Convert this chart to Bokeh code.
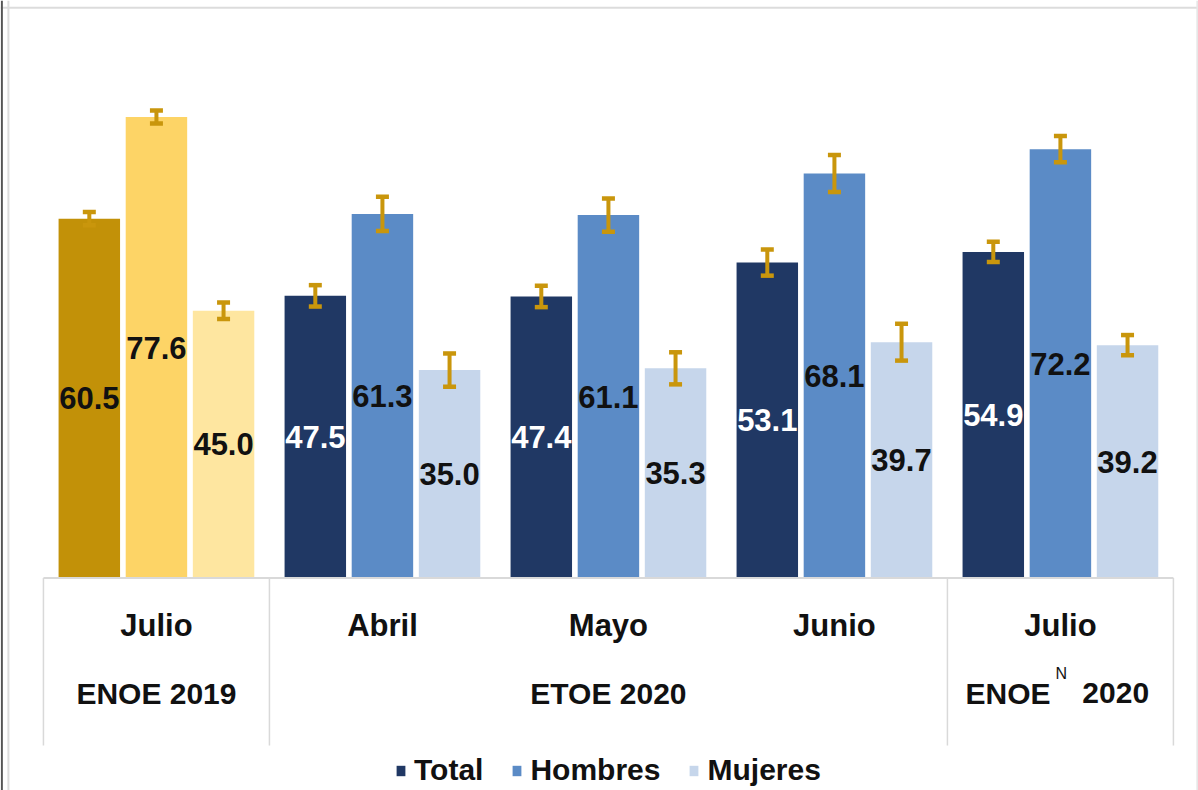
from bokeh.plotting import figure
from bokeh.models import ColumnDataSource, Range1d, Whisker, TeeHead, Legend, LegendItem, Span
from bokeh.core.properties import value
from bokeh.embed import file_html
from bokeh.resources import INLINE

# ---------------- data ----------------
months = ["Julio", "Abril", "Mayo", "Junio", "Julio"]
surveys = ["ENOE 2019", "ETOE 2020", "ETOE 2020", "ETOE 2020", "ENOE 2020"]
series = ["Total", "Hombres", "Mujeres"]
total = [60.5, 47.5, 47.4, 53.1, 54.9]
hombres = [77.6, 61.3, 61.1, 68.1, 72.2]
mujeres = [45.0, 35.0, 35.3, 39.7, 39.2]
err_total = [1.1, 1.8, 1.8, 2.2, 1.7]
err_hombres = [1.1, 2.9, 2.8, 3.1, 2.2]
err_mujeres = [1.4, 2.8, 2.7, 3.1, 1.7]

# ---------------- style ----------------
FONT = "Liberation Sans, Arial, sans-serif"
colors_2019 = ["#c29108", "#fdd466", "#fee6a0"]
colors_2020 = ["#203864", "#5b8bc6", "#c6d6eb"]
ERR_COLOR = "#c9960c"
offsets = [-0.297, 0.0, 0.297]
BAR_W = 0.272
GRID = "#d9d9d9"
TXT = "#111111"

W, H = 1198, 790
p = figure(width=W, height=H, output_backend="svg", toolbar_location=None,
           x_range=Range1d(-0.690, 4.611), y_range=Range1d(-35.77, 97.22),
           x_axis_location=None, y_axis_location=None,
           min_border=0, outline_line_color=None,
           background_fill_color="white", border_fill_color="white")
p.grid.visible = False

values_by_series = [total, hombres, mujeres]
errs_by_series = [err_total, err_hombres, err_mujeres]
renderers = []
for s, (name, vals, errs) in enumerate(zip(series, values_by_series, errs_by_series)):
    xs = [i + offsets[s] for i in range(len(months))]
    cols = [(colors_2019 if sv.endswith("2019") else colors_2020)[s] for sv in surveys]
    lcol = ["white" if c == colors_2020[0] else TXT for c in cols]
    src = ColumnDataSource(dict(
        x=xs, top=vals, color=cols, lcolor=lcol,
        ymid=[v / 2 for v in vals], label=[f"{v:.1f}" for v in vals],
        upper=[v + e for v, e in zip(vals, errs)],
        lower=[v - e for v, e in zip(vals, errs)],
    ))
    r = p.vbar(x="x", top="top", bottom=0, width=BAR_W, source=src,
               fill_color="color", line_color=None)
    renderers.append(r)
    wh = Whisker(base="x", upper="upper", lower="lower", source=src,
                 line_color=ERR_COLOR, line_width=4, level="overlay",
                 upper_head=TeeHead(size=13, line_width=4.5, line_color=ERR_COLOR),
                 lower_head=TeeHead(size=13, line_width=4.5, line_color=ERR_COLOR))
    p.add_layout(wh)
    p.text(x="x", y="ymid", text="label", source=src, text_align="center",
           text_baseline="middle", text_font=value(FONT), text_font_size="31px",
           text_font_style="bold", text_color="lcolor")

# ---------------- category table ----------------
n = len(months)
ROW1, ROW2, DEPTH = -8.0, -19.4, -28.2
bounds = [-0.5] + [i + 0.5 for i in range(n - 1) if surveys[i] != surveys[i + 1]] + [n - 0.5]
p.segment(x0=[-0.5], y0=[0], x1=[n - 0.5], y1=[0], line_color=GRID, line_width=2)
p.segment(x0=bounds, y0=[0] * len(bounds), x1=bounds, y1=[DEPTH] * len(bounds),
          line_color=GRID, line_width=1.5)

p.text(x=list(range(n)), y=[ROW1] * n, text=months, text_align="center",
       text_baseline="middle", text_font=value(FONT), text_font_size="31px",
       text_font_style="bold", text_color=TXT)

groups = []
for i, sv in enumerate(surveys):
    if groups and groups[-1][0] == sv:
        groups[-1][1].append(i)
    else:
        groups.append((sv, [i]))
for sv, idx in groups:
    cx = sum(idx) / len(idx)
    name, year = sv.split(" ")
    if sv == "ENOE 2020":
        p.text(x=[cx - 0.044], y=[ROW2], text=[name], text_align="right",
               text_baseline="middle", text_font=value(FONT), text_font_size="30px",
               text_font_style="bold", text_color=TXT)
        p.text(x=[cx + 0.004], y=[ROW2 + 3.4], text=["N"], text_align="center",
               text_baseline="middle", text_font=value(FONT), text_font_size="16px",
               text_color=TXT)
        p.text(x=[cx + 0.097], y=[ROW2], text=[year], text_align="left",
               text_baseline="middle", text_font=value(FONT), text_font_size="30px",
               text_font_style="bold", text_color=TXT)
    else:
        p.text(x=[cx], y=[ROW2], text=[sv], text_align="center",
               text_baseline="middle", text_font=value(FONT), text_font_size="30px",
               text_font_style="bold", text_color=TXT)

# box frame lines
p.add_layout(Span(location=96.0, dimension="width", line_color="#dcdcdc", line_width=2))
p.add_layout(Span(location=-0.655, dimension="height", line_color="#dcdcdc", line_width=2))
p.add_layout(Span(location=4.606, dimension="height", line_color="#e6e6e6", line_width=2))
p.add_layout(Span(location=-0.684, dimension="height", line_color="#555555", line_width=2))

# ---------------- legend ----------------
legend = Legend(items=[LegendItem(label=series[s], renderers=[renderers[s]], index=1)
                       for s in range(3)],
                orientation="horizontal", location=(395, 3),
                label_text_font=FONT, label_text_font_size="30px",
                label_text_font_style="bold", label_text_color=TXT,
                glyph_width=11, glyph_height=13, label_standoff=8, spacing=28,
                padding=0, margin=0, border_line_color=None,
                background_fill_alpha=0)
p.add_layout(legend)

open("out.html", "w").write(file_html(p, INLINE))
